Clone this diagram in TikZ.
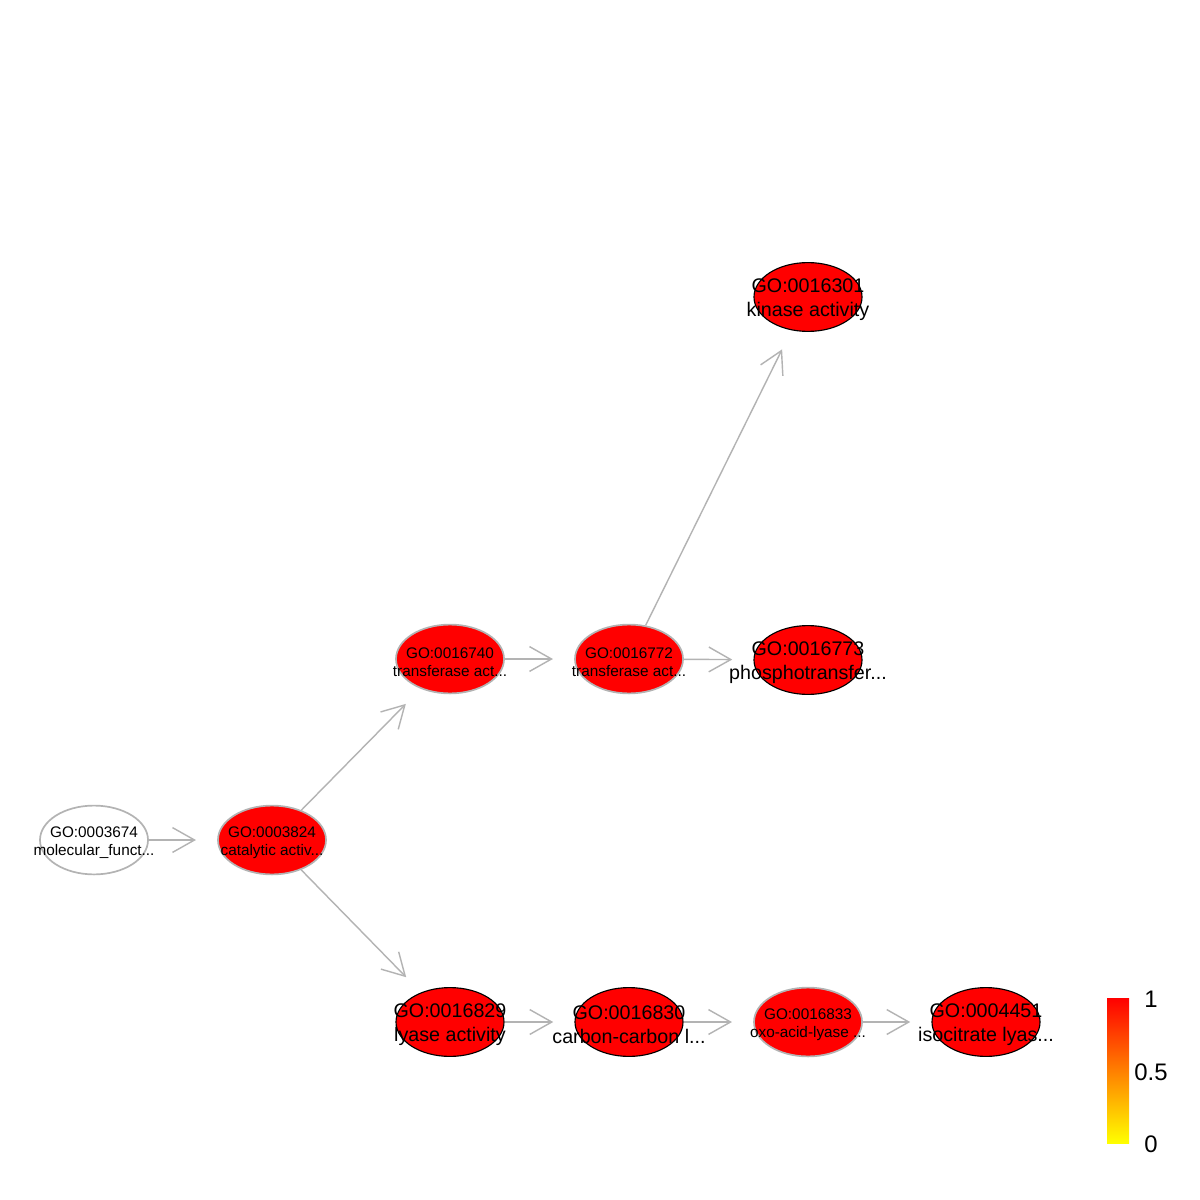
\documentclass[tikz,border=0pt]{standalone}
\usepackage{fontspec}
\setmainfont{Liberation Sans}
\usetikzlibrary{shapes.geometric,arrows.meta}
\definecolor{edgegray}{RGB}{179,179,179}
\definecolor{gored}{RGB}{255,0,0}
\tikzset{
  gonode/.style={ellipse, minimum width=2.7cm, minimum height=1.72cm, inner sep=0pt, fill=gored},
  grayb/.style={draw=edgegray, line width=1.2pt},
  blackb/.style={draw=black, line width=0.8pt},
  smalltxt/.style={align=center, inner sep=0pt, yshift=-2pt, font=\fontsize{10.9pt}{12.8pt}\selectfont},
  bigtxt/.style={align=center, inner sep=0pt, yshift=-2.2pt, font=\fontsize{14pt}{17pt}\selectfont},
  edge/.style={draw=edgegray, line width=1pt, shorten >=0.53cm, -{Straight Barb[length=0.55cm,width=0.62cm]}},
  barlbl/.style={inner sep=0pt, font=\fontsize{17pt}{20pt}\selectfont}
}
\begin{document}
\begin{tikzpicture}[x=0.025cm,y=-0.025cm]
\useasboundingbox[fill=white] (0,0) rectangle (1200,1200);
% nodes
\node[gonode, fill=white, grayb] (n1) at (94,840) {};
\node[gonode, grayb] (n2) at (272,840) {};
\node[gonode, grayb] (n3) at (450,659) {};
\node[gonode, grayb] (n4) at (629,659) {};
\node[gonode, blackb] (n5) at (808,297) {};
\node[gonode, blackb] (n6) at (808,660) {};
\node[gonode, blackb] (n7) at (450,1022) {};
\node[gonode, blackb] (n8) at (629,1022) {};
\node[gonode, grayb] (n9) at (808,1022) {};
\node[gonode, blackb] (n10) at (986,1022) {};
% texts
\node[smalltxt] (t1) at (n1) {GO:0003674\\molecular\_funct...};
\node[smalltxt] (t2) at (n2) {GO:0003824\\catalytic activ...};
\node[smalltxt] (t3) at (n3) {GO:0016740\\transferase act...};
\node[smalltxt] (t4) at (n4) {GO:0016772\\transferase act...};
\node[bigtxt] (t5) at (n5) {GO:0016301\\kinase activity};
\node[bigtxt] (t6) at (n6) {GO:0016773\\phosphotransfer...};
\node[bigtxt] (t7) at (n7) {GO:0016829\\lyase activity};
\node[bigtxt] (t8) at (n8) {GO:0016830\\carbon-carbon l...};
\node[smalltxt] (t9) at (n9) {GO:0016833\\oxo-acid-lyase ...};
\node[bigtxt] (t10) at (n10) {GO:0004451\\isocitrate lyas...};
% edges
\draw[edge] (n1) -- (n2);
\draw[edge] (n2) -- (n3);
\draw[edge] (n2) -- (n7);
\draw[edge] (n3) -- (n4);
\draw[edge] (n4) -- (n5);
\draw[edge] (n4) -- (n6);
\draw[edge] (n7) -- (n8);
\draw[edge] (n8) -- (n9);
\draw[edge] (n9) -- (n10);
% colour bar
\shade[top color=red, bottom color=yellow] (1107,998) rectangle (1129,1143);
\node[barlbl] (b1) at (1151,999) {1};
\node[barlbl] (b05) at (1151,1072) {0.5};
\node[barlbl] (b0) at (1151,1144) {0};
\end{tikzpicture}
\end{document}
